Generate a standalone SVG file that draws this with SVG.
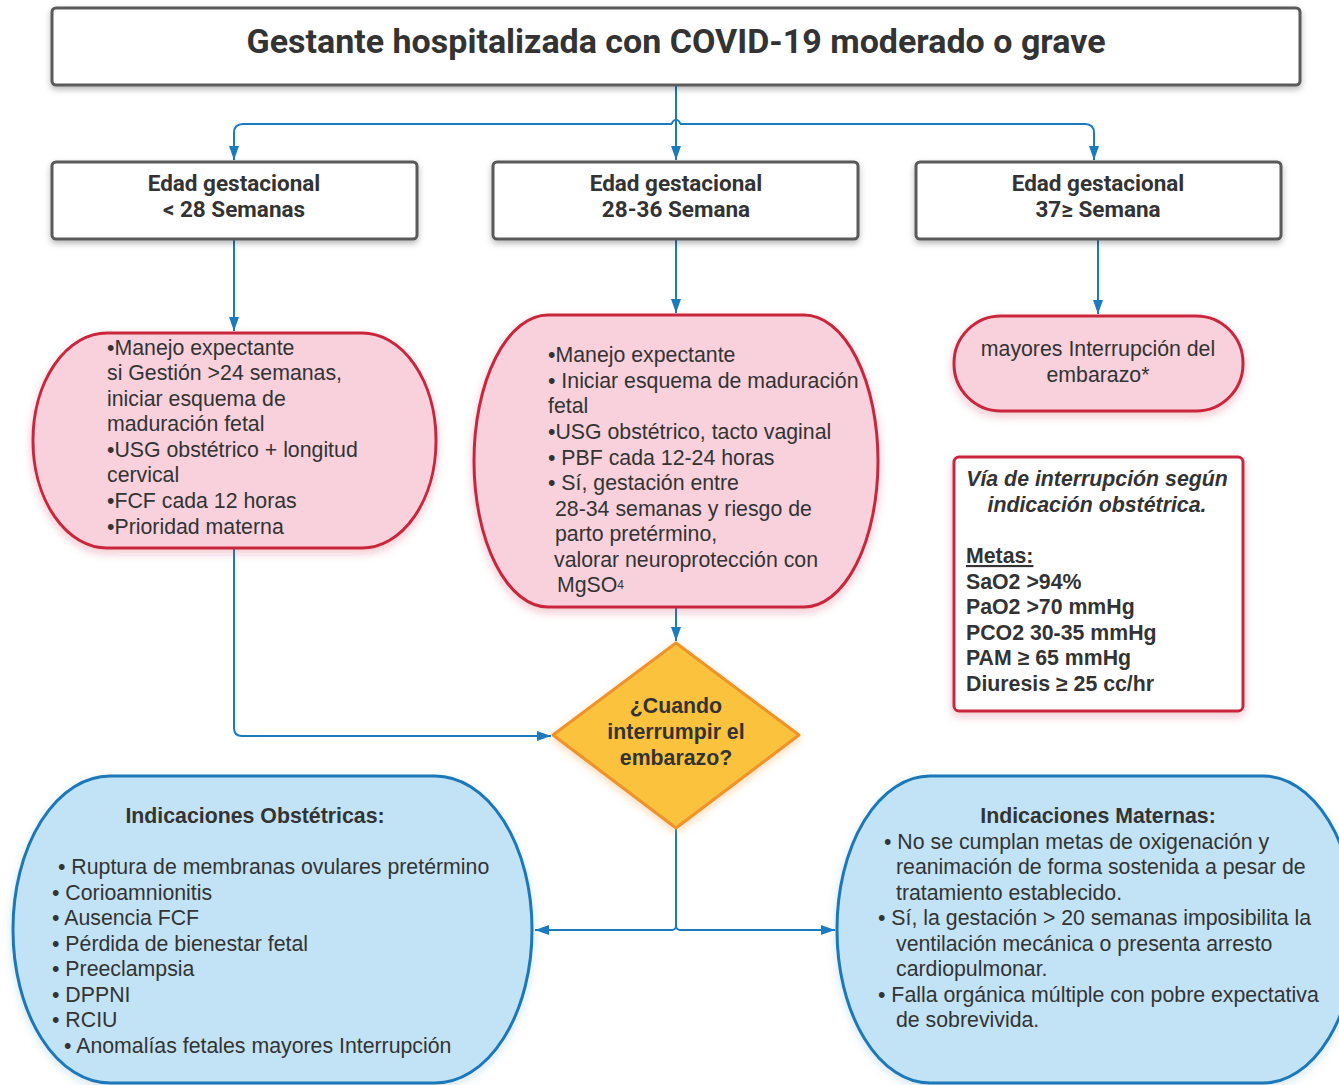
<svg xmlns="http://www.w3.org/2000/svg" width="1339" height="1085" viewBox="0 0 1339 1085">
  <defs>
    <filter id="shadow" x="-10%" y="-10%" width="120%" height="130%">
      <feDropShadow dx="0" dy="3" stdDeviation="3" flood-color="#000" flood-opacity="0.28"/>
    </filter>
    <filter id="glow" x="-10%" y="-10%" width="120%" height="130%">
      <feDropShadow dx="0" dy="4" stdDeviation="4" flood-color="#c8283c" flood-opacity="0.25"/>
    </filter>
    <filter id="glowBlue" x="-10%" y="-10%" width="120%" height="130%">
      <feDropShadow dx="0" dy="3" stdDeviation="4" flood-color="#1a78b8" flood-opacity="0.2"/>
    </filter>
    <filter id="glowOrange" x="-10%" y="-10%" width="120%" height="130%">
      <feDropShadow dx="0" dy="3" stdDeviation="4" flood-color="#f0922b" flood-opacity="0.35"/>
    </filter>
    <marker id="arrow" viewBox="0 0 14 10" refX="14" refY="5" markerWidth="14" markerHeight="10" markerUnits="userSpaceOnUse" orient="auto">
      <path d="M0,0 L14,5 L0,10 z" fill="#1a7bbd"/>
    </marker>
  </defs>
  <style>
    .box { fill: #ffffff; stroke: #5a5a5a; stroke-width: 3; }
    .pink { fill: #f8d1dc; stroke: #c9283d; stroke-width: 3; }
    .note { fill: #ffffff; stroke: #c9283d; stroke-width: 3; }
    .blue { fill: #c2e3f5; stroke: #1a78b8; stroke-width: 3; }
    .dia { fill: #fac23c; stroke: #f0922b; stroke-width: 3; }
    .conn { fill: none; stroke: #1a7bbd; stroke-width: 2; }
    .title { font-family: Roboto, "Liberation Sans", sans-serif; font-weight: 700; font-size: 34px; fill: #333333; }
    .head { font-family: Roboto, "Liberation Sans", sans-serif; font-weight: 700; font-size: 22.5px; fill: #333333; }
    .t { font-family: "Liberation Sans", Arial, sans-serif; font-size: 21.3px; fill: #333333; }
    .b { font-family: "Liberation Sans", Arial, sans-serif; font-size: 21.3px; font-weight: 700; fill: #333333; }
    .bi { font-family: "Liberation Sans", Arial, sans-serif; font-size: 21.3px; font-weight: 700; font-style: italic; fill: #333333; }
    .c { text-anchor: middle; }
  </style>

  <!-- connectors -->
  <g id="connectors">
    <path class="conn" d="M676,85 V160" marker-end="url(#arrow)"/>
    <path class="conn" d="M672,124 A4,4 0 0 1 680,124"/>
    <path class="conn" d="M672,124 H243 Q234,124 234,133 V160" marker-end="url(#arrow)"/>
    <path class="conn" d="M680,124 H1085 Q1094,124 1094,133 V160" marker-end="url(#arrow)"/>
    <path class="conn" d="M234,239 V331" marker-end="url(#arrow)"/>
    <path class="conn" d="M676,239 V313" marker-end="url(#arrow)"/>
    <path class="conn" d="M1098,239 V314" marker-end="url(#arrow)"/>
    <path class="conn" d="M234,548 V728 Q234,736 242,736 H551" marker-end="url(#arrow)"/>
    <path class="conn" d="M676,607 V641" marker-end="url(#arrow)"/>
    <path class="conn" d="M676,828 V926 A4,4 0 0 1 672,930 H535" marker-end="url(#arrow)"/>
    <path class="conn" d="M676,926 A4,4 0 0 0 680,930 H835" marker-end="url(#arrow)"/>
  </g>

  <!-- root -->
  <g id="root">
    <rect class="box" x="52" y="8" width="1248" height="77" rx="4" filter="url(#shadow)"/>
    <text class="title c" x="676" y="53">Gestante hospitalizada con COVID-19 moderado o grave</text>
  </g>

  <!-- gestational age boxes -->
  <g id="eg-menor28">
    <rect class="box" x="52" y="162" width="365" height="77" rx="4" filter="url(#shadow)"/>
    <text class="head c" x="234" y="191">Edad gestacional</text>
    <text class="head c" x="234" y="217">&lt; 28 Semanas</text>
  </g>
  <g id="eg-28-36">
    <rect class="box" x="493" y="162" width="365" height="77" rx="4" filter="url(#shadow)"/>
    <text class="head c" x="676" y="191">Edad gestacional</text>
    <text class="head c" x="676" y="217">28-36 Semana</text>
  </g>
  <g id="eg-37">
    <rect class="box" x="916" y="162" width="365" height="77" rx="4" filter="url(#shadow)"/>
    <text class="head c" x="1098" y="191">Edad gestacional</text>
    <text class="head c" x="1098" y="217">37≥ Semana</text>
  </g>

  <!-- management nodes -->
  <g id="manejo-menor28">
    <rect class="pink" x="33" y="333" width="403" height="215" rx="74" ry="107" filter="url(#glow)"/>
    <text class="t" x="107" y="355">•Manejo expectante</text>
    <text class="t" x="107" y="380">si Gestión &gt;24 semanas,</text>
    <text class="t" x="107" y="406">iniciar esquema de</text>
    <text class="t" x="107" y="431">maduración fetal</text>
    <text class="t" x="107" y="457">•USG obstétrico + longitud</text>
    <text class="t" x="107" y="482">cervical</text>
    <text class="t" x="107" y="508">•FCF cada 12 horas</text>
    <text class="t" x="107" y="534">•Prioridad materna</text>
  </g>
  <g id="manejo-28-36">
    <rect class="pink" x="474" y="315" width="404" height="292" rx="74" ry="146" filter="url(#glow)"/>
    <text class="t" x="548" y="362">•Manejo expectante</text>
    <text class="t" x="548" y="388">• Iniciar esquema de maduración</text>
    <text class="t" x="548" y="413">fetal</text>
    <text class="t" x="548" y="439">•USG obstétrico, tacto vaginal</text>
    <text class="t" x="548" y="465">• PBF cada 12-24 horas</text>
    <text class="t" x="548" y="490">• Sí, gestación entre</text>
    <text class="t" x="555" y="516">28-34 semanas y riesgo de</text>
    <text class="t" x="555" y="541">parto pretérmino,</text>
    <text class="t" x="554" y="567">valorar neuroprotección con</text>
    <text class="t" x="557" y="592">MgSO<tspan font-size="12" dy="-3">4</tspan></text>
  </g>
  <g id="manejo-37">
    <rect class="pink" x="954" y="316" width="289" height="95" rx="47" ry="47" filter="url(#glow)"/>
    <text class="t c" x="1098" y="356">mayores Interrupción del</text>
    <text class="t c" x="1098" y="382">embarazo*</text>
  </g>

  <!-- goals note -->
  <g id="metas">
    <rect class="note" x="954" y="457" width="289" height="254" rx="5" filter="url(#glow)"/>
    <text class="bi c" x="1097" y="486">Vía de interrupción según</text>
    <text class="bi c" x="1097" y="512">indicación obstétrica.</text>
    <text class="b" x="966" y="563" text-decoration="underline">Metas:</text>
    <text class="b" x="966" y="589">SaO2 &gt;94%</text>
    <text class="b" x="966" y="614">PaO2 &gt;70 mmHg</text>
    <text class="b" x="966" y="640">PCO2 30-35 mmHg</text>
    <text class="b" x="966" y="665">PAM ≥ 65 mmHg</text>
    <text class="b" x="966" y="691">Diuresis ≥ 25 cc/hr</text>
  </g>

  <!-- decision -->
  <g id="decision">
    <path class="dia" d="M676,643 L799,735 L676,828 L553,735 Z" stroke-linejoin="round" filter="url(#glowOrange)"/>
    <text class="b c" x="676" y="713">¿Cuando</text>
    <text class="b c" x="676" y="739">interrumpir el</text>
    <text class="b c" x="676" y="765">embarazo?</text>
  </g>

  <!-- indications -->
  <g id="ind-obstetricas">
    <rect class="blue" x="13" y="776" width="519" height="307" rx="97" ry="153" filter="url(#glowBlue)"/>
    <text class="b c" x="255" y="823">Indicaciones Obstétricas:</text>
    <text class="t" x="58" y="874">• Ruptura de membranas ovulares pretérmino</text>
    <text class="t" x="52" y="900">• Corioamnionitis</text>
    <text class="t" x="52" y="925">• Ausencia FCF</text>
    <text class="t" x="52" y="951">• Pérdida de bienestar fetal</text>
    <text class="t" x="52" y="976">• Preeclampsia</text>
    <text class="t" x="52" y="1002">• DPPNI</text>
    <text class="t" x="52" y="1027">• RCIU</text>
    <text class="t" x="64" y="1053">• Anomalías fetales mayores Interrupción</text>
  </g>
  <g id="ind-maternas">
    <rect class="blue" x="837" y="776" width="519" height="307" rx="93" ry="153" filter="url(#glowBlue)"/>
    <text class="b c" x="1098" y="823">Indicaciones Maternas:</text>
    <text class="t" x="884" y="849">• No se cumplan metas de oxigenación y</text>
    <text class="t" x="896" y="874">reanimación de forma sostenida a pesar de</text>
    <text class="t" x="896" y="900">tratamiento establecido.</text>
    <text class="t" x="878" y="925">• Sí, la gestación &gt; 20 semanas imposibilita la</text>
    <text class="t" x="896" y="951">ventilación mecánica o presenta arresto</text>
    <text class="t" x="896" y="976">cardiopulmonar.</text>
    <text class="t" x="878" y="1002">• Falla orgánica múltiple con pobre expectativa</text>
    <text class="t" x="896" y="1027">de sobrevivida.</text>
  </g>
</svg>
